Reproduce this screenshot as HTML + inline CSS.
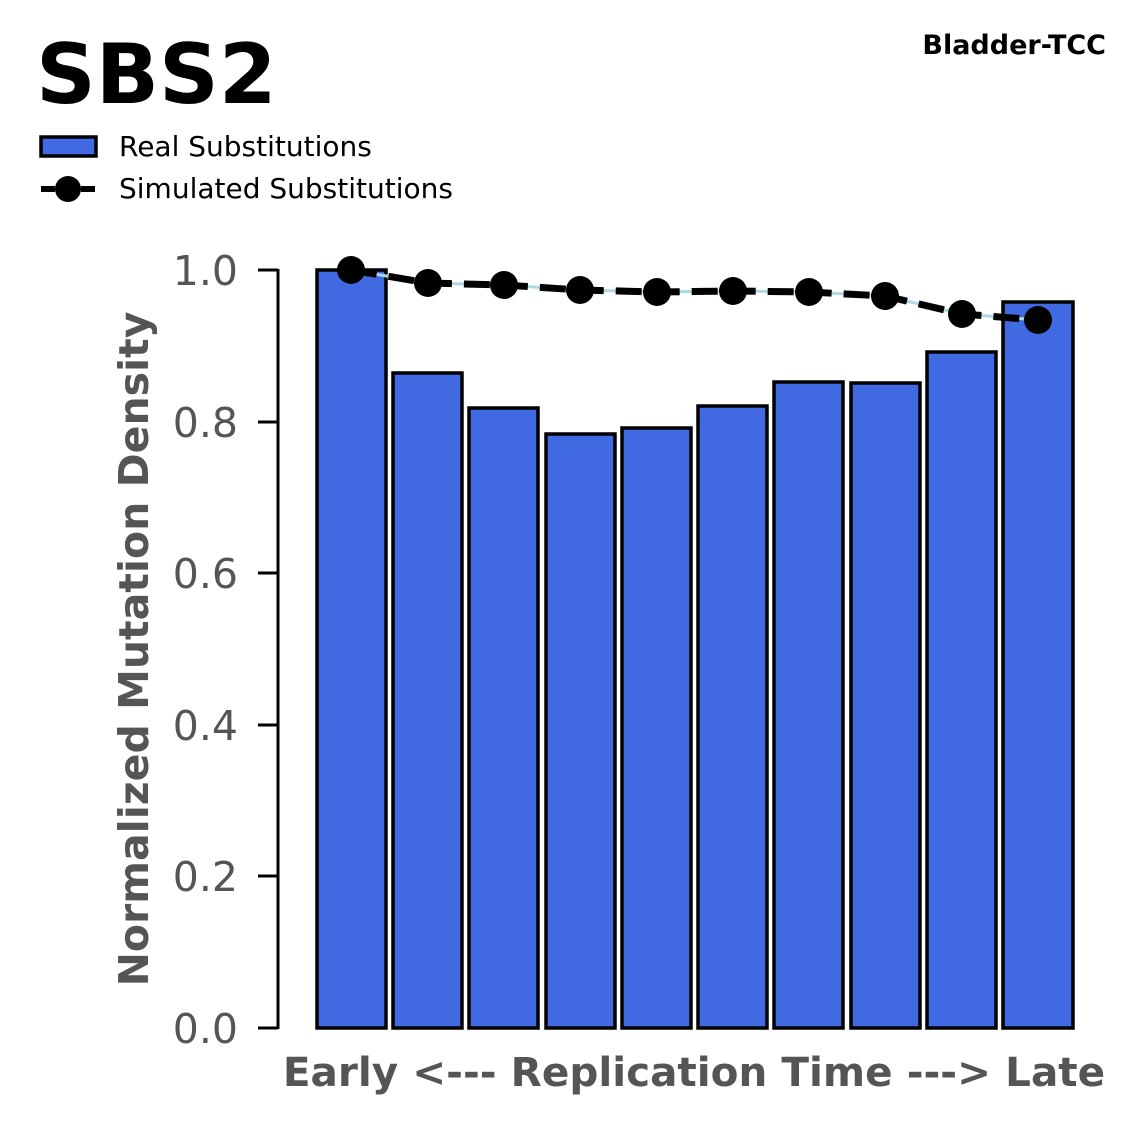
<!DOCTYPE html>
<html><head><meta charset="utf-8"><style>
html,body{margin:0;padding:0;background:#fff;}
svg{display:block;font-family:"DejaVu Sans","Liberation Sans",sans-serif;}
</style></head><body>
<svg width="1147" height="1125" viewBox="0 0 1147 1125" xmlns="http://www.w3.org/2000/svg">
<text x="36" y="103" font-size="83" font-weight="bold" fill="#000">SBS2</text>
<text x="1106" y="54" font-size="27" font-weight="bold" text-anchor="end" fill="#000">Bladder-TCC</text>
<rect x="41" y="137" width="55" height="19" fill="#4169e1" stroke="#000" stroke-width="3.5"/>
<text x="119" y="156" font-size="28" fill="#000">Real Substitutions</text>
<line x1="41" y1="189" x2="96" y2="189" stroke="#000" stroke-width="6" stroke-dasharray="14,6"/>
<circle cx="68" cy="189" r="13" fill="#000"/>
<text x="119" y="198" font-size="28" fill="#000">Simulated Substitutions</text>
<line x1="278" y1="269" x2="278" y2="1029" stroke="#000" stroke-width="3"/>
<g stroke="#000" stroke-width="3">
<line x1="258" y1="270" x2="278" y2="270"/><line x1="258" y1="422" x2="278" y2="422"/>
<line x1="258" y1="573" x2="278" y2="573"/><line x1="258" y1="725" x2="278" y2="725"/>
<line x1="258" y1="876" x2="278" y2="876"/><line x1="258" y1="1028" x2="278" y2="1028"/>
</g>
<g font-size="41" fill="#555" text-anchor="end">
<text x="238" y="285">1.0</text><text x="238" y="437">0.8</text><text x="238" y="588">0.6</text>
<text x="238" y="740">0.4</text><text x="238" y="891">0.2</text><text x="238" y="1043">0.0</text>
</g>
<text transform="translate(148,649) rotate(-90)" font-size="41" font-weight="bold" fill="#555" text-anchor="middle">Normalized Mutation Density</text>
<text x="694" y="1086" font-size="40.5" font-weight="bold" fill="#555" text-anchor="middle">Early &lt;--- Replication Time ---&gt; Late</text>
<g fill="#4169e1" stroke="#000" stroke-width="3.5">
<rect x="317" y="270" width="69" height="758"/>
<rect x="393" y="373" width="69" height="655"/>
<rect x="469" y="408" width="69" height="620"/>
<rect x="546" y="434" width="69" height="594"/>
<rect x="622" y="428" width="69" height="600"/>
<rect x="698" y="406" width="69" height="622"/>
<rect x="774" y="382" width="69" height="646"/>
<rect x="851" y="383" width="69" height="645"/>
<rect x="927" y="352" width="69" height="676"/>
<rect x="1003" y="302" width="70" height="726"/>
</g>
<polyline points="351,270 428,283 504,285 580,290 657,292 733,291 809,292 885,296 962,314 1038,320" fill="none" stroke="#add8e6" stroke-width="3"/>
<polyline points="351,270 428,283 504,285 580,290 657,292 733,291 809,292 885,296 962,314 1038,320" fill="none" stroke="#000" stroke-width="7" stroke-dasharray="26,12"/>
<g fill="#000">
<circle cx="351" cy="270" r="14"/><circle cx="428" cy="283" r="14"/><circle cx="504" cy="285" r="14"/>
<circle cx="580" cy="290" r="14"/><circle cx="657" cy="292" r="14"/><circle cx="733" cy="291" r="14"/>
<circle cx="809" cy="292" r="14"/><circle cx="885" cy="296" r="14"/><circle cx="962" cy="314" r="14"/>
<circle cx="1038" cy="320" r="14"/>
</g>
</svg>
</body></html>
